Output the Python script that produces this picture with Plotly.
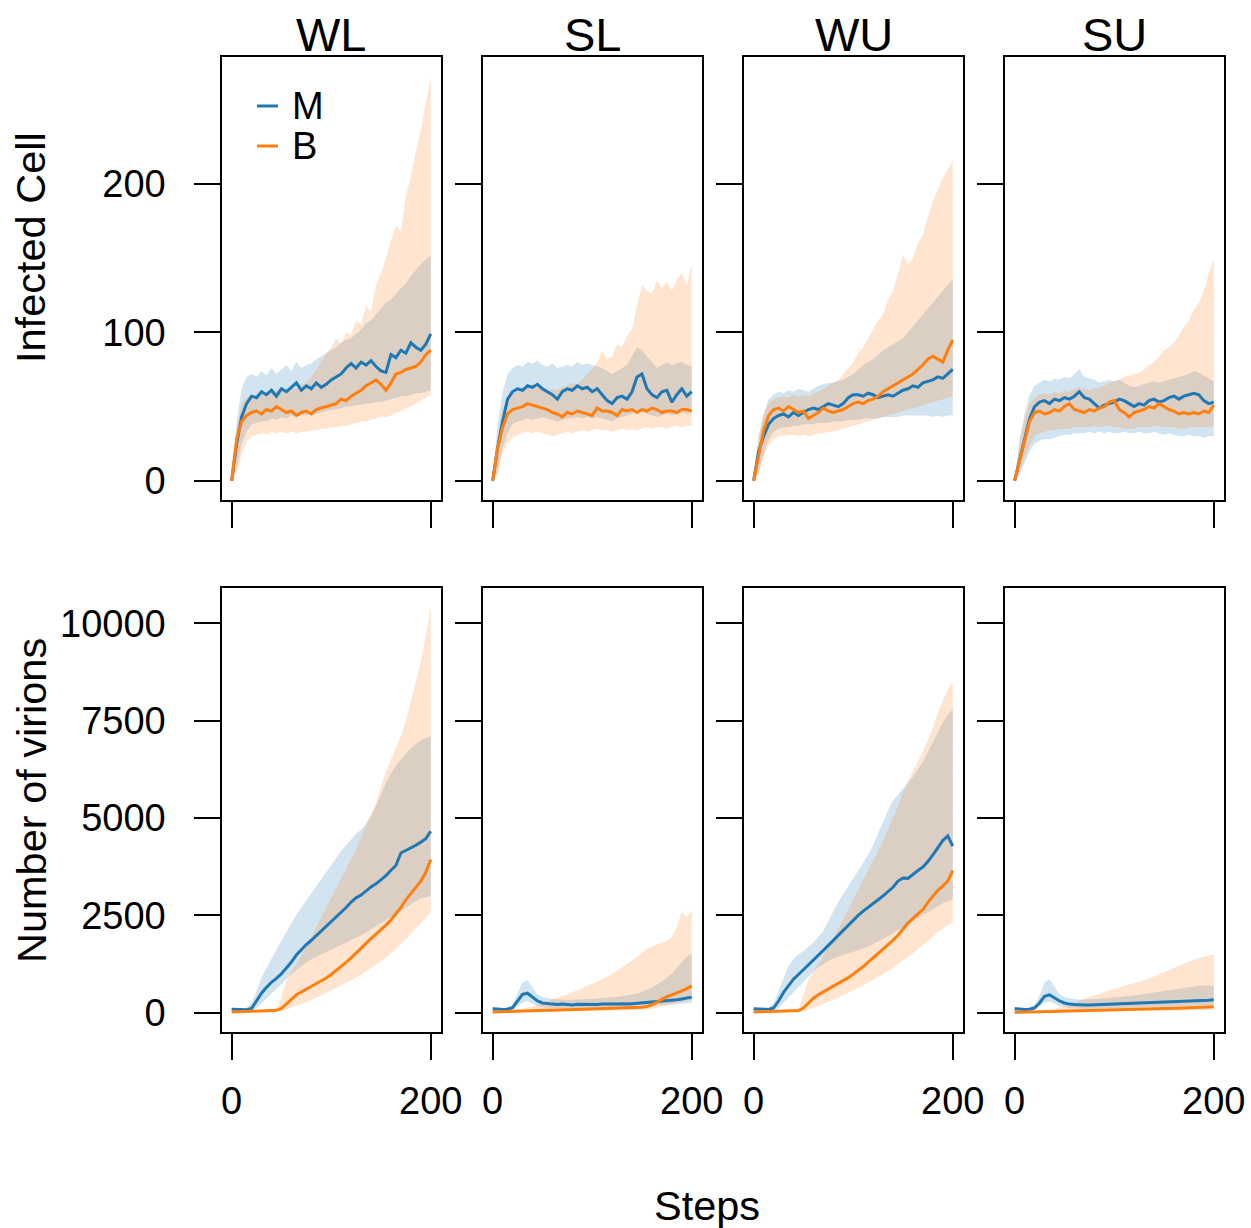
import plotly.graph_objects as go

# ---------------- data ----------------
STEPS = [0, 5, 10, 15, 20, 25, 30, 35, 40, 45, 50, 55, 60, 65, 70, 75, 80, 85, 90, 95, 100,
         105, 110, 115, 120, 125, 130, 135, 140, 145, 150, 155, 160, 165, 170, 175, 180, 185, 190, 195, 200]

CONDITIONS = ["WL", "SL", "WU", "SU"]
ROW_TITLES = ["Infected Cell", "Number of virions"]
SERIES = ["M", "B"]
X_TICKS = [0, 200]
IC_TICKS = [0, 100, 200]
VI_TICKS = [0, 2500, 5000, 7500, 10000]
VI_TICK_TEXT = ["0", "2500", "5000", "7500", "10000"]

# Infected cells
WL_IC_M = [0, 25, 43, 52, 57, 56, 60, 58, 61, 57, 62, 60, 63, 66, 61, 64, 62, 66, 63, 65, 68, 70, 72, 76, 79, 76, 80, 78, 81, 77, 74, 73, 85, 83, 88, 86, 93, 90, 88, 92, 99]
WL_IC_M_LO = [0, 8, 25, 33, 38, 39, 40, 40, 42, 41, 43, 42, 44, 43, 44, 44, 45, 45, 46, 47, 48, 48, 49, 50, 50, 51, 51, 52, 52, 53, 53, 54, 55, 56, 57, 57, 58, 59, 59, 60, 61]
WL_IC_M_HI = [0, 40, 62, 70, 72, 70, 74, 71, 76, 72, 75, 78, 74, 80, 76, 78, 79, 82, 84, 86, 88, 90, 93, 95, 96, 99, 102, 106, 108, 112, 116, 120, 122, 126, 130, 133, 138, 142, 146, 149, 152]
WL_IC_B = [0, 28, 40, 44, 46, 47, 45, 48, 47, 50, 48, 46, 47, 44, 46, 47, 45, 48, 49, 50, 51, 52, 55, 54, 57, 59, 61, 64, 66, 68, 65, 61, 66, 72, 73, 75, 76, 77, 80, 85, 88]
WL_IC_B_LO = [0, 5, 18, 26, 30, 31, 32, 31, 33, 32, 33, 32, 33, 32, 33, 33, 34, 34, 35, 35, 36, 36, 37, 37, 38, 39, 40, 40, 41, 42, 43, 43, 44, 46, 47, 49, 50, 52, 54, 56, 58]
WL_IC_B_HI = [0, 35, 52, 56, 58, 57, 60, 58, 60, 61, 62, 60, 63, 62, 65, 66, 70, 75, 80, 86, 90, 96, 92, 100, 98, 108, 105, 118, 114, 132, 140, 150, 162, 172, 168, 192, 205, 222, 236, 255, 272]

SL_IC_M = [0, 22, 40, 55, 60, 62, 61, 64, 63, 65, 62, 60, 58, 55, 60, 62, 61, 64, 62, 63, 60, 62, 58, 54, 52, 56, 57, 55, 60, 70, 72, 62, 58, 56, 60, 61, 53, 58, 62, 57, 60]
SL_IC_M_LO = [0, 6, 22, 32, 38, 40, 41, 42, 41, 42, 43, 42, 41, 40, 41, 42, 42, 43, 42, 43, 42, 43, 42, 41, 40, 42, 43, 44, 45, 48, 47, 45, 44, 43, 44, 45, 44, 45, 46, 45, 46]
SL_IC_M_HI = [0, 38, 60, 72, 76, 78, 77, 80, 79, 81, 78, 77, 79, 76, 77, 78, 77, 80, 78, 79, 78, 77, 76, 74, 72, 74, 76, 78, 84, 90, 88, 84, 80, 76, 78, 80, 78, 79, 80, 78, 77]
SL_IC_B = [0, 22, 36, 45, 48, 49, 50, 52, 51, 50, 49, 48, 46, 45, 43, 46, 45, 47, 46, 45, 44, 49, 47, 47, 46, 44, 48, 47, 48, 46, 48, 47, 49, 48, 46, 47, 47, 46, 48, 48, 47]
SL_IC_B_LO = [0, 4, 18, 26, 29, 31, 32, 33, 32, 33, 32, 31, 30, 31, 32, 33, 32, 33, 34, 33, 34, 35, 34, 34, 33, 34, 35, 34, 35, 34, 35, 36, 35, 36, 36, 35, 36, 37, 36, 37, 37]
SL_IC_B_HI = [0, 30, 48, 55, 58, 60, 62, 63, 62, 63, 62, 60, 62, 61, 63, 64, 66, 65, 68, 72, 75, 80, 88, 82, 84, 92, 90, 98, 102, 118, 132, 128, 126, 135, 130, 134, 128, 136, 140, 132, 146]

WU_IC_M = [0, 20, 30, 38, 42, 44, 45, 43, 46, 44, 46, 48, 49, 48, 50, 52, 51, 50, 52, 56, 58, 58, 57, 59, 58, 56, 57, 58, 57, 59, 61, 62, 64, 63, 66, 67, 68, 70, 69, 72, 75]
WU_IC_M_LO = [0, 6, 18, 28, 33, 35, 36, 36, 37, 37, 38, 38, 38, 39, 39, 39, 40, 40, 40, 41, 41, 41, 42, 42, 42, 42, 43, 43, 43, 43, 44, 44, 44, 44, 44, 44, 43, 44, 43, 44, 44]
WU_IC_M_HI = [0, 30, 45, 55, 58, 60, 59, 61, 60, 62, 61, 60, 62, 64, 65, 66, 66, 67, 68, 70, 72, 75, 78, 80, 82, 85, 88, 90, 92, 94, 96, 100, 104, 108, 112, 116, 120, 124, 128, 132, 136]
WU_IC_B = [0, 18, 34, 44, 48, 49, 47, 50, 48, 46, 47, 42, 44, 46, 49, 47, 46, 47, 48, 50, 52, 53, 52, 54, 55, 57, 60, 62, 64, 66, 68, 70, 72, 75, 78, 82, 84, 82, 80, 88, 95]
WU_IC_B_LO = [0, 4, 16, 24, 28, 30, 30, 31, 31, 30, 31, 30, 31, 32, 32, 33, 33, 34, 35, 36, 37, 38, 39, 40, 41, 42, 43, 44, 45, 46, 47, 48, 49, 50, 51, 52, 53, 54, 55, 56, 57]
WU_IC_B_HI = [0, 28, 45, 52, 55, 56, 57, 56, 58, 57, 58, 57, 59, 60, 62, 64, 66, 68, 72, 76, 80, 86, 90, 96, 102, 108, 112, 122, 128, 140, 152, 146, 150, 160, 166, 178, 188, 196, 204, 210, 216]

SU_IC_M = [0, 15, 28, 42, 50, 53, 54, 52, 55, 54, 56, 55, 57, 60, 56, 55, 52, 49, 51, 52, 53, 55, 54, 52, 50, 52, 51, 54, 55, 53, 54, 56, 57, 55, 57, 58, 59, 58, 54, 52, 53]
SU_IC_M_LO = [0, 4, 12, 20, 25, 27, 28, 28, 29, 30, 31, 31, 32, 32, 32, 33, 32, 33, 32, 33, 32, 32, 33, 32, 32, 33, 32, 32, 33, 32, 31, 32, 31, 30, 30, 31, 30, 30, 29, 30, 30]
SU_IC_M_HI = [0, 28, 45, 58, 64, 66, 68, 67, 69, 68, 70, 69, 72, 75, 70, 69, 68, 66, 67, 68, 67, 68, 66, 64, 63, 64, 65, 66, 67, 66, 67, 68, 69, 70, 71, 72, 74, 73, 71, 69, 67]
SU_IC_B = [0, 14, 26, 40, 46, 47, 45, 46, 48, 47, 50, 52, 48, 47, 46, 48, 47, 49, 50, 53, 54, 48, 46, 43, 46, 47, 48, 50, 49, 52, 50, 48, 47, 45, 46, 45, 46, 45, 47, 46, 51]
SU_IC_B_LO = [0, 6, 16, 24, 30, 32, 33, 34, 34, 35, 35, 35, 36, 36, 36, 36, 37, 36, 37, 37, 36, 36, 35, 35, 35, 36, 36, 36, 37, 37, 36, 36, 36, 35, 35, 36, 36, 36, 36, 36, 37]
SU_IC_B_HI = [0, 25, 42, 52, 56, 58, 59, 58, 60, 59, 61, 60, 62, 63, 62, 61, 62, 63, 64, 66, 67, 68, 70, 71, 72, 73, 75, 78, 80, 84, 88, 90, 93, 98, 104, 108, 115, 120, 128, 140, 150]

# Number of virions
WL_VI_M = [90, 80, 70, 75, 110, 300, 500, 650, 780, 880, 1000, 1150, 1300, 1480, 1620, 1750, 1860, 1980, 2090, 2220, 2330, 2450, 2570, 2700, 2840, 2950, 3020, 3130, 3230, 3310, 3420, 3520, 3660, 3780, 4100, 4160, 4220, 4300, 4380, 4470, 4660]
WL_VI_M_LO = [60, 50, 45, 50, 60, 120, 250, 380, 500, 620, 740, 860, 980, 1100, 1200, 1290, 1370, 1440, 1500, 1560, 1620, 1680, 1740, 1800, 1860, 1920, 1990, 2060, 2130, 2200, 2280, 2360, 2440, 2520, 2600, 2690, 2780, 2860, 2930, 2960, 3000]
WL_VI_M_HI = [120, 110, 100, 120, 250, 560, 900, 1150, 1400, 1620, 1850, 2080, 2300, 2520, 2700, 2880, 3080, 3250, 3450, 3620, 3800, 3980, 4150, 4300, 4450, 4600, 4700, 4850, 5050, 5300, 5600, 5900, 6150, 6350, 6500, 6650, 6800, 6900, 7000, 7050, 7100]
WL_VI_B = [20, 25, 30, 35, 35, 40, 40, 45, 45, 60, 110, 230, 360, 460, 530, 600, 660, 740, 820, 890, 980, 1080, 1180, 1290, 1410, 1540, 1660, 1780, 1900, 2010, 2130, 2250, 2380, 2540, 2700, 2900, 3070, 3220, 3380, 3600, 3930]
WL_VI_B_LO = [10, 10, 15, 15, 20, 20, 20, 25, 25, 30, 40, 70, 120, 170, 220, 270, 320, 380, 440, 500, 560, 620, 690, 760, 830, 900, 980, 1060, 1140, 1230, 1320, 1420, 1520, 1630, 1750, 1880, 2020, 2160, 2300, 2430, 2600]
WL_VI_B_HI = [30, 30, 35, 35, 40, 40, 45, 45, 50, 80, 400, 800, 1050, 1250, 1450, 1700, 1950, 2200, 2450, 2700, 2950, 3200, 3450, 3700, 3950, 4200, 4500, 4800, 5100, 5400, 5800, 6200, 6500, 6800, 7100, 7500, 8000, 8500, 9000, 9700, 10400]

SL_VI_M = [100, 90, 85, 90, 130, 300, 470, 500, 400, 300, 250, 230, 220, 210, 220, 210, 200, 215, 210, 220, 215, 210, 220, 215, 210, 220, 230, 220, 230, 240, 250, 260, 270, 280, 290, 300, 320, 330, 350, 370, 400]
SL_VI_M_LO = [50, 45, 40, 45, 70, 150, 250, 300, 230, 170, 140, 120, 110, 100, 100, 100, 100, 100, 110, 110, 110, 110, 120, 120, 120, 130, 130, 140, 140, 150, 150, 160, 170, 180, 190, 200, 210, 220, 230, 240, 250]
SL_VI_M_HI = [150, 140, 130, 140, 200, 500, 780, 830, 650, 480, 400, 370, 350, 340, 330, 330, 330, 340, 340, 350, 350, 360, 370, 380, 390, 400, 420, 440, 460, 490, 530, 580, 650, 720, 800, 900, 1000, 1150, 1300, 1450, 1500]
SL_VI_B = [20, 25, 30, 35, 40, 45, 45, 50, 50, 55, 55, 60, 60, 65, 65, 70, 70, 75, 75, 80, 80, 85, 90, 95, 100, 105, 110, 115, 120, 130, 140, 160, 200, 270, 350, 410, 460, 500, 560, 620, 690]
SL_VI_B_LO = [0, 5, 10, 15, 20, 20, 25, 25, 30, 30, 30, 35, 35, 35, 40, 40, 40, 45, 45, 45, 50, 50, 55, 55, 60, 60, 65, 65, 70, 75, 80, 90, 100, 120, 150, 180, 210, 240, 270, 300, 330]
SL_VI_B_HI = [30, 35, 40, 45, 60, 80, 100, 130, 160, 200, 240, 280, 320, 370, 420, 470, 520, 570, 620, 680, 740, 800, 860, 930, 1000, 1080, 1160, 1250, 1340, 1440, 1540, 1640, 1700, 1760, 1800, 1850, 1950, 2200, 2600, 2450, 2620]

WU_VI_M = [100, 90, 80, 85, 120, 300, 520, 700, 860, 980, 1100, 1230, 1360, 1480, 1600, 1730, 1860, 1990, 2120, 2250, 2380, 2500, 2610, 2700, 2800, 2900, 3000, 3100, 3220, 3380, 3460, 3450, 3560, 3650, 3740, 3880, 4050, 4250, 4420, 4540, 4280]
WU_VI_M_LO = [60, 50, 45, 50, 60, 120, 250, 400, 520, 640, 780, 920, 1050, 1170, 1260, 1330, 1390, 1440, 1480, 1520, 1560, 1600, 1650, 1700, 1760, 1820, 1890, 1960, 2030, 2100, 2180, 2260, 2340, 2420, 2500, 2580, 2660, 2740, 2810, 2870, 2900]
WU_VI_M_HI = [130, 120, 110, 130, 250, 550, 900, 1200, 1380, 1500, 1580, 1680, 1800, 1950, 2100, 2350, 2600, 2850, 3050, 3250, 3450, 3650, 3850, 4050, 4300, 4600, 4900, 5200, 5450, 5600, 5750, 5900, 6050, 6250, 6450, 6700, 6950, 7200, 7450, 7650, 7800]
WU_VI_B = [20, 25, 30, 35, 35, 40, 40, 45, 45, 55, 120, 250, 370, 460, 530, 600, 670, 740, 820, 900, 990, 1080, 1180, 1300, 1420, 1520, 1630, 1740, 1860, 1990, 2140, 2300, 2420, 2530, 2650, 2830, 3000, 3140, 3250, 3380, 3650]
WU_VI_B_LO = [10, 10, 15, 15, 20, 20, 20, 25, 25, 30, 40, 70, 120, 170, 220, 270, 330, 390, 450, 510, 570, 630, 700, 770, 840, 910, 990, 1070, 1150, 1240, 1330, 1430, 1530, 1630, 1730, 1840, 1950, 2060, 2160, 2250, 2330]
WU_VI_B_HI = [30, 30, 35, 35, 40, 40, 45, 45, 50, 80, 450, 850, 1050, 1250, 1450, 1680, 1900, 2150, 2400, 2650, 2900, 3150, 3400, 3650, 3900, 4150, 4400, 4700, 5000, 5300, 5650, 5950, 6200, 6450, 6700, 7000, 7300, 7700, 8000, 8300, 8500]

SU_VI_M = [100, 90, 85, 90, 120, 250, 420, 460, 380, 300, 250, 220, 210, 200, 200, 200, 205, 210, 210, 215, 220, 220, 225, 230, 230, 235, 240, 245, 250, 255, 260, 265, 270, 275, 280, 290, 295, 300, 310, 320, 330]
SU_VI_M_LO = [50, 45, 40, 45, 70, 150, 250, 280, 220, 170, 140, 120, 110, 100, 100, 100, 105, 110, 110, 115, 120, 120, 125, 130, 130, 135, 140, 145, 150, 150, 155, 160, 165, 170, 175, 180, 185, 190, 195, 200, 200]
SU_VI_M_HI = [150, 140, 130, 140, 200, 450, 780, 850, 650, 480, 400, 370, 350, 340, 340, 340, 350, 360, 370, 380, 390, 400, 410, 420, 440, 460, 480, 500, 520, 540, 560, 580, 600, 620, 640, 660, 680, 690, 700, 700, 700]
SU_VI_B = [10, 15, 18, 20, 22, 25, 28, 30, 32, 35, 38, 40, 42, 45, 48, 50, 52, 55, 58, 60, 62, 65, 68, 72, 75, 78, 82, 85, 90, 95, 100, 105, 110, 115, 120, 125, 130, 135, 140, 145, 150]
SU_VI_B_LO = [0, 5, 8, 10, 11, 12, 14, 15, 16, 17, 19, 20, 21, 22, 24, 25, 26, 27, 29, 30, 31, 32, 34, 36, 37, 39, 41, 42, 45, 47, 50, 52, 55, 57, 60, 62, 65, 67, 70, 72, 75]
SU_VI_B_HI = [30, 35, 40, 45, 50, 60, 70, 80, 100, 130, 170, 210, 250, 300, 350, 400, 450, 490, 530, 570, 610, 650, 690, 720, 750, 790, 840, 880, 930, 980, 1050, 1100, 1150, 1200, 1260, 1320, 1360, 1400, 1440, 1470, 1500]

PANELS = [
    (WL_IC_M, WL_IC_M_LO, WL_IC_M_HI, WL_IC_B, WL_IC_B_LO, WL_IC_B_HI),
    (SL_IC_M, SL_IC_M_LO, SL_IC_M_HI, SL_IC_B, SL_IC_B_LO, SL_IC_B_HI),
    (WU_IC_M, WU_IC_M_LO, WU_IC_M_HI, WU_IC_B, WU_IC_B_LO, WU_IC_B_HI),
    (SU_IC_M, SU_IC_M_LO, SU_IC_M_HI, SU_IC_B, SU_IC_B_LO, SU_IC_B_HI),
    (WL_VI_M, WL_VI_M_LO, WL_VI_M_HI, WL_VI_B, WL_VI_B_LO, WL_VI_B_HI),
    (SL_VI_M, SL_VI_M_LO, SL_VI_M_HI, SL_VI_B, SL_VI_B_LO, SL_VI_B_HI),
    (WU_VI_M, WU_VI_M_LO, WU_VI_M_HI, WU_VI_B, WU_VI_B_LO, WU_VI_B_HI),
    (SU_VI_M, SU_VI_M_LO, SU_VI_M_HI, SU_VI_B, SU_VI_B_LO, SU_VI_B_HI),
]

# ---------------- styling / layout ----------------
W, H = 1251, 1228
FONT = "Liberation Sans, Arial, sans-serif"
BLUE, ORANGE = "#1f77b4", "#ff7f0e"
BLUE_FILL, ORANGE_FILL = "rgba(31,119,180,0.2)", "rgba(255,127,14,0.2)"

PANEL_LEFT = [222.3, 483.3, 744.3, 1005.3]
PANEL_W = 218.7
ROW_PX = [(57, 500), (588, 1032)]
X_RANGE = [-9.4, 210.3]
Y_RANGES = [[-13.0, 285.7], [-496, 10907]]
TICK_FONT = dict(size=38, color="black", family=FONT)
LABEL_FONT = dict(size=41.5, color="black", family=FONT)


def px_x(p):
    return p / W


def px_y(p):
    return 1 - p / H


fig = go.Figure()
layout = {}

for idx, (m, m_lo, m_hi, b, b_lo, b_hi) in enumerate(PANELS):
    r, c = divmod(idx, 4)
    n = idx + 1
    xa = "x" if n == 1 else f"x{n}"
    ya = "y" if n == 1 else f"y{n}"
    common = dict(xaxis=xa, yaxis=ya, hoverinfo="skip", showlegend=False)
    fig.add_trace(go.Scatter(x=STEPS + STEPS[::-1], y=m_hi + m_lo[::-1], fill="toself",
                             fillcolor=BLUE_FILL, line=dict(width=0), mode="lines", **common))
    fig.add_trace(go.Scatter(x=STEPS + STEPS[::-1], y=b_hi + b_lo[::-1], fill="toself",
                             fillcolor=ORANGE_FILL, line=dict(width=0), mode="lines", **common))
    fig.add_trace(go.Scatter(x=STEPS, y=m, mode="lines", name=SERIES[0],
                             line=dict(color=BLUE, width=3), **common))
    fig.add_trace(go.Scatter(x=STEPS, y=b, mode="lines", name=SERIES[1],
                             line=dict(color=ORANGE, width=3), **common))

    top, bot = ROW_PX[r]
    left = PANEL_LEFT[c]
    xkey = "xaxis" if n == 1 else f"xaxis{n}"
    ykey = "yaxis" if n == 1 else f"yaxis{n}"
    layout[xkey] = dict(
        domain=[px_x(left), px_x(left + PANEL_W)], range=X_RANGE, anchor=ya,
        showline=True, mirror=True, linecolor="black", linewidth=2,
        ticks="outside", ticklen=26, tickwidth=2, tickcolor="black",
        tickvals=X_TICKS, showticklabels=(r == 1), ticklabelstandoff=8,
        tickfont=TICK_FONT, showgrid=False, zeroline=False, fixedrange=True,
        automargin=False,
    )
    yvals = IC_TICKS if r == 0 else VI_TICKS
    ytext = [str(v) for v in IC_TICKS] if r == 0 else VI_TICK_TEXT
    layout[ykey] = dict(
        domain=[px_y(bot), px_y(top)], range=Y_RANGES[r], anchor=xa,
        showline=True, mirror=True, linecolor="black", linewidth=2,
        ticks="outside", ticklen=26, tickwidth=2, tickcolor="black",
        tickvals=yvals, ticktext=ytext, showticklabels=(c == 0),
        ticklabelstandoff=21, tickfont=TICK_FONT,
        showgrid=False, zeroline=False, fixedrange=True, automargin=False,
    )

annotations = []
for c, name in enumerate(CONDITIONS):
    annotations.append(dict(text=name, x=px_x(PANEL_LEFT[c] + PANEL_W / 2), y=px_y(34),
                            xref="paper", yref="paper", xanchor="center", yanchor="middle",
                            showarrow=False, font=dict(size=47, color="black", family=FONT)))
annotations.append(dict(text=ROW_TITLES[0], x=px_x(31), y=px_y(248), textangle=-90,
                        xref="paper", yref="paper", xanchor="center", yanchor="middle",
                        showarrow=False, font=LABEL_FONT))
annotations.append(dict(text=ROW_TITLES[1], x=px_x(31), y=px_y(801), textangle=-90,
                        xref="paper", yref="paper", xanchor="center", yanchor="middle",
                        showarrow=False, font=LABEL_FONT))
annotations.append(dict(text="Steps", x=px_x(707), y=px_y(1205),
                        xref="paper", yref="paper", xanchor="center", yanchor="middle",
                        showarrow=False, font=LABEL_FONT))

# legend (inside the first panel): short key segments and labels
shapes = []
for name, color, ypx in [(SERIES[0], BLUE, 106), (SERIES[1], ORANGE, 146)]:
    shapes.append(dict(type="line", xref="paper", yref="paper",
                       x0=px_x(257), x1=px_x(278), y0=px_y(ypx), y1=px_y(ypx),
                       line=dict(color=color, width=3)))
    annotations.append(dict(text=name, x=px_x(290), y=px_y(ypx), xref="paper", yref="paper",
                            xanchor="left", yanchor="middle", showarrow=False,
                            font=dict(size=38, color="black", family=FONT)))

fig.update_layout(
    width=W, height=H, autosize=False, margin=dict(l=0, r=0, t=0, b=0, pad=0),
    paper_bgcolor="white", plot_bgcolor="white",
    font=dict(family=FONT, color="black", size=36),
    annotations=annotations, shapes=shapes, showlegend=False,
    **layout,
)

fig.write_html("out.html")
